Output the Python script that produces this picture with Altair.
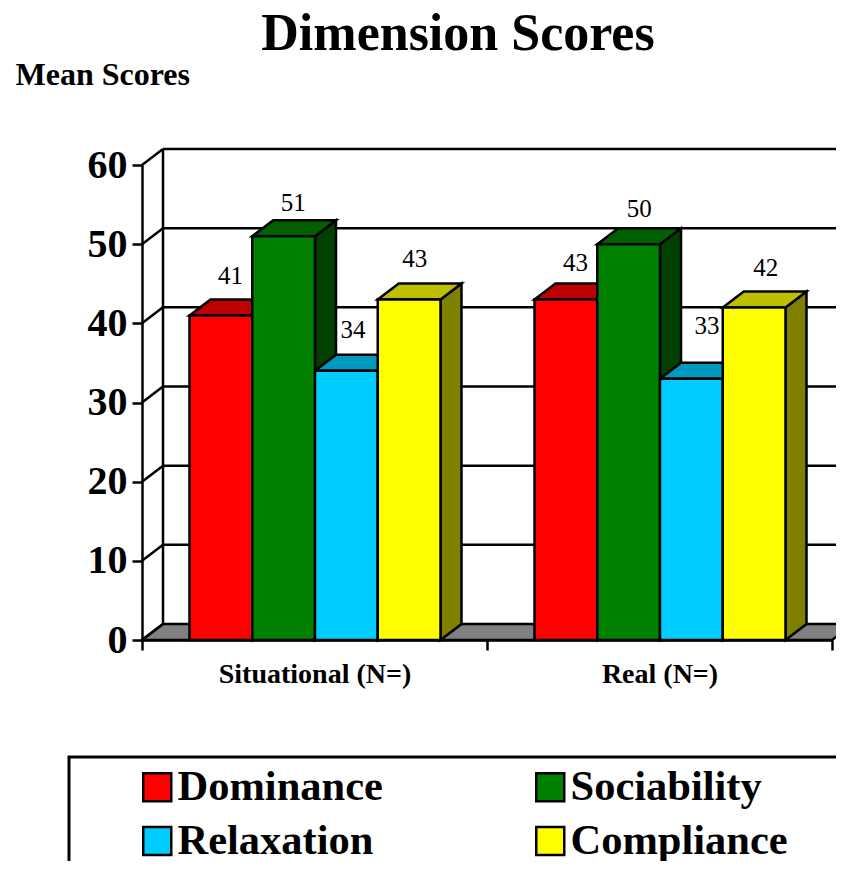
import altair as alt
import pandas as pd

groups = ["Situational (N=)", "Real (N=)"]
series = ["Dominance", "Sociability", "Relaxation", "Compliance"]
values = {
    "Situational (N=)": [41, 51, 34, 43],
    "Real (N=)": [43, 50, 33, 42],
}
front_colors = ["#FF0000", "#008000", "#00CCFF", "#FFFF00"]
top_colors = ["#BF0000", "#006000", "#0099BF", "#BFBF00"]
side_colors = ["#800000", "#004000", "#006680", "#808000"]
y_ticks = [0, 10, 20, 30, 40, 50, 60]

# layout of the oblique projection, in data units
PX_X = 345
PX_Y = 7.92
DX = 21 / PX_X
DY = 16 / PX_Y
GAP = 47.5 / PX_X
BAR = 62.75 / PX_X
FONT = "Liberation Serif"
# small hand placement of the value labels, in pixels (right, up)
NUDGE = {
    "Situational (N=)": [(-1, 1), (-1, -5), (-4, 3), (-5, 3)],
    "Real (N=)": [(-1, -1), (0, -3), (5, 15), (1, 2)],
}

bars, tops, sides = [], [], []
for g, group in enumerate(groups):
    for i, name in enumerate(series):
        v = values[group][i]
        x0 = g + GAP + i * BAR
        x1 = x0 + BAR
        key = f"{group}-{name}"
        nx, ny = NUDGE[group][i]
        bars.append(dict(key=key, series=name, x0=x0, x1=x1, v=v, base=0,
                         lx=(x0 + x1) / 2 + DX / 2 + nx / PX_X, ly=v + DY + ny / PX_Y))
        tops += [dict(key=key, color=top_colors[i], y=v, xa=x0, xb=x1),
                 dict(key=key, color=top_colors[i], y=v + DY, xa=x0 + DX, xb=x1 + DX)]
        sides += [dict(key=key, color=side_colors[i], x=x1, ya=0, yb=v),
                  dict(key=key, color=side_colors[i], x=x1 + DX, ya=DY, yb=v + DY)]

bars = pd.DataFrame(bars)
tops = pd.DataFrame(tops)
sides = pd.DataFrame(sides)
grid = pd.DataFrame([dict(t=t, y=t + DY, xa=DX, xb=2 + DX) for t in y_ticks if t > 0])
wall = pd.DataFrame([dict(x=DX, ya=DY, yb=60 + DY)])
diag = pd.DataFrame([r for t in y_ticks
                     for r in (dict(t=t, x=0, y=t), dict(t=t, x=DX, y=t + DY))])
floor = pd.DataFrame([dict(y=0, xa=0, xb=2), dict(y=DY, xa=DX, xb=2 + DX)])
frame = pd.DataFrame([dict(a=1)])

xs = alt.Scale(domain=[0, 2], nice=False, zero=False)
ys = alt.Scale(domain=[0, 60], nice=False)
SW = 2.5
stroke = dict(stroke="black", strokeWidth=SW)

x_axis = alt.Axis(
    values=[0, 0.5, 1, 1.5, 2],
    labelExpr="datum.value == 0.5 ? 'Situational (N=)' : datum.value == 1.5 ? 'Real (N=)' : ''",
    labelFont=FONT, labelFontSize=28, labelFontWeight="bold", labelColor="black",
    labelPadding=10, labelAngle=0, labelLimit=400, title=None, grid=False, tickSize=10, tickWidth=SW,
    tickColor="black", domainColor="black", domainWidth=SW, zindex=1,
    tickOpacity={"condition": {"test": "datum.value % 1 != 0", "value": 0}, "value": 1},
)
y_axis = alt.Axis(
    values=y_ticks, labelFont=FONT, labelFontSize=40, labelFontWeight="bold",
    labelColor="black", labelPadding=5, grid=False, tickSize=10, tickWidth=SW,
    tickColor="black", domainColor="black", domainWidth=SW, zindex=1,
    title="Mean Scores", titleFont=FONT, titleFontSize=32, titleFontWeight="bold",
    titleColor="black", titleAngle=0, titleAlign="left", titleBaseline="alphabetic",
    titleX=-127, titleY=-81,
)

axes = alt.Chart(grid).mark_rule(color="black", strokeWidth=SW).encode(
    x=alt.X("xa:Q", scale=xs, axis=x_axis), x2="xb:Q",
    y=alt.Y("y:Q", scale=ys, axis=y_axis),
)
wall_line = alt.Chart(wall).mark_rule(color="black", strokeWidth=SW).encode(
    x=alt.X("x:Q", scale=xs), y=alt.Y("ya:Q", scale=ys), y2="yb:Q",
)
diagonals = alt.Chart(diag).mark_line(color="black", strokeWidth=SW).encode(
    x=alt.X("x:Q", scale=xs), y=alt.Y("y:Q", scale=ys), detail="t:N",
)
floor_area = alt.Chart(floor).mark_area(orient="horizontal", fill="#808080", **stroke).encode(
    y=alt.Y("y:Q", scale=ys), x=alt.X("xa:Q", scale=xs), x2="xb:Q",
)
top_faces = alt.Chart(tops).mark_area(orient="horizontal", **stroke).encode(
    y=alt.Y("y:Q", scale=ys), x=alt.X("xa:Q", scale=xs), x2="xb:Q",
    fill=alt.Fill("color:N", scale=None), detail="key:N",
)
side_faces = alt.Chart(sides).mark_area(**stroke).encode(
    x=alt.X("x:Q", scale=xs), y=alt.Y("ya:Q", scale=ys), y2="yb:Q",
    fill=alt.Fill("color:N", scale=None), detail="key:N",
)
front_faces = alt.Chart(bars).mark_rect(**stroke).encode(
    x=alt.X("x0:Q", scale=xs), x2="x1:Q",
    y=alt.Y("base:Q", scale=ys), y2="v:Q",
    fill=alt.Fill("series:N", scale=alt.Scale(domain=series, range=front_colors),
                  legend=alt.Legend(
                      title=None, orient="none", direction="horizontal",
                      legendX=-6, legendY=605, columns=2,
                      symbolType="square", symbolSize=784, symbolStrokeColor="black",
                      symbolStrokeWidth=2.5, symbolOpacity=1, labelFont=FONT, labelFontSize=42.5,
                      labelFontWeight="bold", labelColor="black", labelOffset={"expr": "-1"},
                      labelLimit=400, columnPadding=146, rowPadding=11, padding=0,
                      clipHeight=34,
                  )),
)
labels = alt.Chart(bars).mark_text(
    font=FONT, fontSize=25, color="black", baseline="alphabetic", dy=-14,
).encode(
    x=alt.X("lx:Q", scale=xs), y=alt.Y("ly:Q", scale=ys),
    text=alt.Text("v:Q", format=".0f"),
)
legend_frame = alt.Chart(frame).mark_rect(fill=None, stroke="black", strokeWidth=3).encode(
    x=alt.value(-73), x2=alt.value(1000), y=alt.value(592), y2=alt.value(1000),
)

chart = alt.layer(
    axes, floor_area, wall_line, diagonals, side_faces, top_faces, front_faces, labels, legend_frame,
).resolve_scale(fill="independent").properties(
    width=690, height=475,
    title=alt.TitleParams("Dimension Scores", font=FONT, fontSize=52, fontWeight="bold",
                          color="black", anchor="middle", dx=-29, dy=3, offset=0),
    autosize=alt.AutoSizeParams(type="none"),
    padding={"left": 134, "top": 157, "right": 4, "bottom": 221},
).configure_view(stroke=None)

chart.save("out.html", embed_options={"renderer": "svg", "actions": False})
